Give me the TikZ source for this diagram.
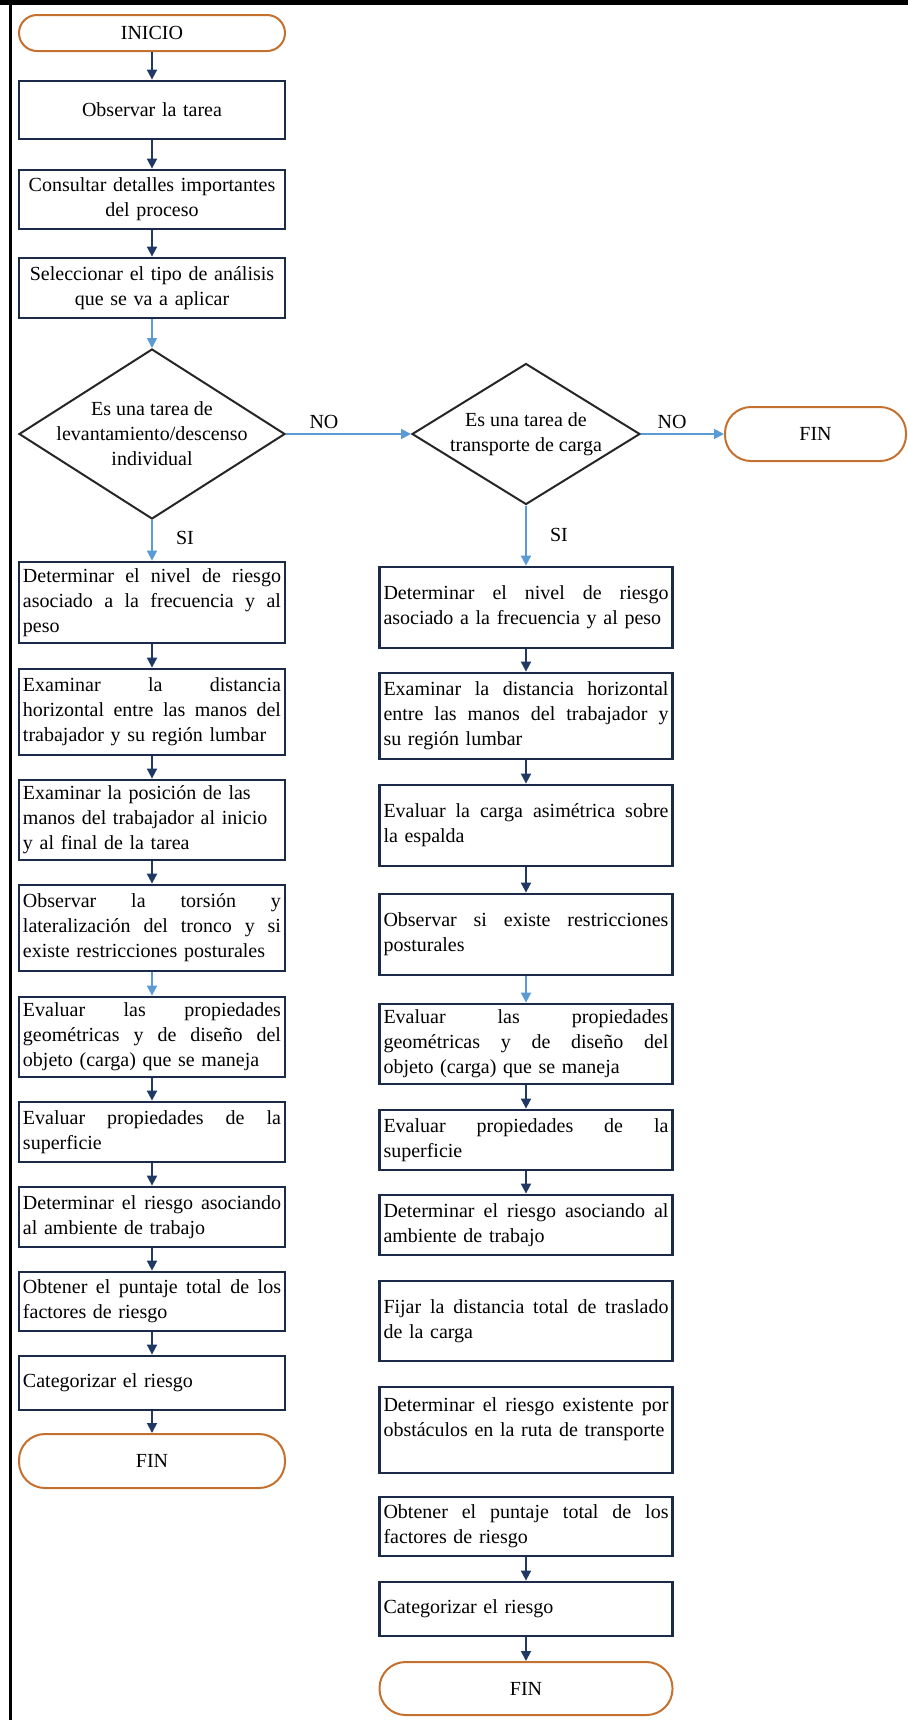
\documentclass[tikz,border=0pt]{standalone}
\usepackage{fontspec}
\setmainfont{Liberation Serif}
\usetikzlibrary{shapes.geometric,arrows.meta}
\definecolor{navy}{HTML}{1F3864}
\definecolor{boxc}{HTML}{1B2A48}
\definecolor{lblue}{HTML}{5B9BD5}
\definecolor{termc}{HTML}{C4702E}
\newcommand\jl[1]{\leavevmode\hbox to 129pt{\spaceskip=\fontdimen2\font plus 1fil\relax #1}}
\newcommand\jr[1]{\leavevmode\hbox to 142.5pt{\spaceskip=\fontdimen2\font plus 1fil\relax #1}}
\begin{document}
\begin{tikzpicture}[x=0.5pt,y=-0.5pt,
  font=\fontsize{10pt}{12.5pt}\selectfont,
  box/.style={draw=boxc, line width=1.4pt, fill=white, rectangle, inner xsep=2pt, inner ysep=1pt, align=left},
  lbox/.style={box, text width=129pt},
  rbox/.style={box, text width=142.5pt},
  cbox/.style={box, text width=129pt, align=center},
  terminal/.style={draw=termc, line width=1pt, fill=white, rectangle, inner sep=0pt},
  dia/.style={diamond, draw=black!85, line width=1pt, inner sep=0pt, fill=white},
  flow/.style={-{Triangle[width=5pt,length=5pt]}, draw=navy, line width=0.9pt},
  lflow/.style={flow, draw=lblue},
  lbl/.style={inner sep=0pt}
]
\useasboundingbox (0,0) rectangle (908,1720);
% frame
\draw[line width=2.5pt] (0,2.5) -- (908,2.5);
\draw[line width=1.5pt] (10,4) -- (10,1720);

% top of the flow
\node[terminal, minimum width=133pt, minimum height=18pt, rounded corners=9pt] (inicio) at (152,33) {INICIO};
\node[cbox, minimum height=29pt] (o1) at (152,110) {Observar la tarea};
\node[cbox, minimum height=29.5pt] (o2) at (152,199.5) {Consultar detalles importantes\\del proceso};
\node[cbox, minimum height=30pt] (o3) at (152,288) {Seleccionar el tipo de análisis\\que se va a aplicar};

% decisions
\node[dia, minimum width=133pt, minimum height=85pt] (d1) at (152,434) {};
\node[align=center] at (d1) {Es una tarea de\\levantamiento/descenso\\individual};
\node[dia, minimum width=114pt, minimum height=70.5pt] (d2) at (526,434) {};
\node[align=center] at (d2) {Es una tarea de\\transporte de carga};
\node[terminal, minimum width=90.5pt, minimum height=27pt, rounded corners=13pt] (fin1) at (815.5,434) {FIN};

\node[lbl] (no1) at (324,422) {NO};
\node[lbl] (no2) at (672,422) {NO};
\node[lbl] (si1) at (185,538) {SI};
\node[lbl] (si2) at (559,535) {SI};

% left column
\node[lbox, minimum height=40.5pt] (l1) at (152,602.5) {\jl{Determinar el nivel de riesgo}\\\jl{asociado a la frecuencia y al}\\peso};
\node[lbox, minimum height=43pt] (l2) at (152,712) {\jl{Examinar la distancia}\\\jl{horizontal entre las manos del}\\trabajador y su región lumbar};
\node[lbox, minimum height=40pt] (l3) at (152,820) {Examinar la posición de las\\manos del trabajador al inicio\\y al final de la tarea};
\node[lbox, minimum height=43pt] (l4) at (152,928) {\jl{Observar la torsión y}\\\jl{lateralización del tronco y si}\\existe restricciones posturales};
\node[lbox, minimum height=40pt] (l5) at (152,1037) {\jl{Evaluar las propiedades}\\\jl{geométricas y de diseño del}\\objeto (carga) que se maneja};
\node[lbox, minimum height=30pt] (l6) at (152,1132) {\jl{Evaluar propiedades de la}\\superficie};
\node[lbox, minimum height=30pt] (l7) at (152,1217) {\jl{Determinar el riesgo asociando}\\al ambiente de trabajo};
\node[lbox, minimum height=29.5pt] (l8) at (152,1301.5) {\jl{Obtener el puntaje total de los}\\factores de riesgo};
\node[lbox, minimum height=27pt] (l9) at (152,1383) {Categorizar el riesgo};
\node[terminal, minimum width=133pt, minimum height=27pt, rounded corners=13pt] (fin2) at (152,1461) {FIN};

% right column
\node[rbox, minimum height=40.5pt] (r1) at (526,607.5) {\jr{Determinar el nivel de riesgo}\\asociado a la frecuencia y al peso};
\node[rbox, minimum height=43pt] (r2) at (526,716) {\jr{Examinar la distancia horizontal}\\\jr{entre las manos del trabajador y}\\su región lumbar};
\node[rbox, minimum height=40.5pt] (r3) at (526,825.5) {\jr{Evaluar la carga asimétrica sobre}\\la espalda};
\node[rbox, minimum height=40.5pt] (r4) at (526,934.5) {\jr{Observar si existe restricciones}\\posturales};
\node[rbox, minimum height=40pt] (r5) at (526,1044) {\jr{Evaluar las propiedades}\\\jr{geométricas y de diseño del}\\objeto (carga) que se maneja};
\node[rbox, minimum height=30pt] (r6) at (526,1140) {\jr{Evaluar propiedades de la}\\superficie};
\node[rbox, minimum height=30pt] (r7) at (526,1225) {\jr{Determinar el riesgo asociando al}\\ambiente de trabajo};
\node[rbox, minimum height=40pt] (r8) at (526,1321) {\jr{Fijar la distancia total de traslado}\\de la carga};
\node[rbox, minimum height=43pt] (r9) at (526,1430) {\jr{Determinar el riesgo existente por}\\obstáculos en la ruta de transporte\\\mbox{}};
\node[rbox, minimum height=29.5pt] (r10) at (526,1526.5) {\jr{Obtener el puntaje total de los}\\factores de riesgo};
\node[rbox, minimum height=27pt] (r11) at (526,1609) {Categorizar el riesgo};
\node[terminal, minimum width=146.5pt, minimum height=26.5pt, rounded corners=13pt] (fin3) at (526,1688.5) {FIN};

% connectors
\draw[flow] (inicio) -- (o1);
\draw[flow] (o1) -- (o2);
\draw[flow] (o2) -- (o3);
\draw[lflow] (o3) -- (d1);
\draw[lflow] (d1.east) -- (d2.west);
\draw[lflow] (d2.east) -- (fin1.west);
\draw[lflow] (d1.south) -- (l1.north);
\draw[lflow] (d2.south) -- (r1.north);
\draw[flow] (l1) -- (l2);
\draw[flow] (l2) -- (l3);
\draw[flow] (l3) -- (l4);
\draw[lflow] (l4) -- (l5);
\draw[flow] (l5) -- (l6);
\draw[flow] (l6) -- (l7);
\draw[flow] (l7) -- (l8);
\draw[flow] (l8) -- (l9);
\draw[flow] (l9) -- (fin2);
\draw[flow] (r1) -- (r2);
\draw[flow] (r2) -- (r3);
\draw[flow] (r3) -- (r4);
\draw[lflow] (r4) -- (r5);
\draw[flow] (r5) -- (r6);
\draw[flow] (r6) -- (r7);
\draw[flow] (r10) -- (r11);
\draw[flow] (r11) -- (fin3);
\end{tikzpicture}
\end{document}
